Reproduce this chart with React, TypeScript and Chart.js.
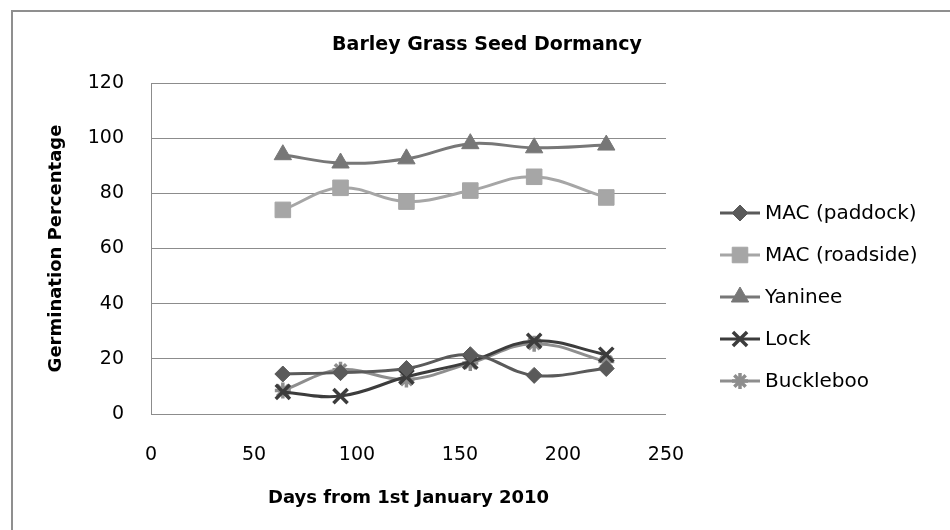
import React, { useEffect, useRef } from "react";
import { Chart, registerables } from "chart.js";
import { drawPoint } from "chart.js/helpers";

Chart.register(...registerables);

// ---- data ----
const days = [64, 92, 124, 155, 186, 221];
const macPaddock = [14.5, 15, 16.5, 21.5, 14, 16.5];
const macRoadside = [74, 82, 77, 81, 86, 78.5];
const yaninee = [94, 91, 92.5, 98, 96.5, 97.5];
const lock = [8, 6.5, 13.5, 19, 26.5, 21.5];
const buckleboo = [8.5, 16, 12.5, 18.5, 25.5, 19];

const seriesNames = ["MAC (paddock)", "MAC (roadside)", "Yaninee", "Lock", "Buckleboo"];
const xTicks = [0, 50, 100, 150, 200, 250];
const yTicks = [0, 20, 40, 60, 80, 100, 120];

const chartTitle = "Barley Grass Seed Dormancy";
const xTitle = "Days from 1st January 2010";
const yTitle = "Germination Percentage";

const FONT = '"Comic Sans MS", "DejaVu Sans", sans-serif';

const styles = [
  { color: "#5a5a5a", point: "rectRot", radius: 8, pbw: 1 },
  { color: "#a6a6a6", point: "rect", radius: 11, pbw: 1 },
  { color: "#777777", point: "triangle", radius: 10, pbw: 1 },
  { color: "#3c3c3c", point: "crossRot", radius: 10, pbw: 3.5 },
  { color: "#8e8e8e", point: "star", radius: 8, pbw: 3.5 },
];

const allSeries = [macPaddock, macRoadside, yaninee, lock, buckleboo];

const decorPlugin = {
  id: "decor",
  afterDraw(chart: any) {
    const ctx = chart.ctx;
    ctx.save();
    // title
    ctx.fillStyle = "#000";
    ctx.font = `bold 19px ${FONT}`;
    ctx.textAlign = "center";
    ctx.textBaseline = "middle";
    ctx.fillText(chartTitle, 487, 45);
    // legend
    chart.data.datasets.forEach((ds: any, i: number) => {
      const y = 213 + i * 42;
      ctx.strokeStyle = ds.borderColor;
      ctx.lineWidth = 3;
      ctx.beginPath();
      ctx.moveTo(720, y);
      ctx.lineTo(760, y);
      ctx.stroke();
      ctx.fillStyle = ds.pointBackgroundColor;
      ctx.strokeStyle = ds.pointBorderColor;
      ctx.lineWidth = ds.pointBorderWidth;
      drawPoint(
        ctx,
        { pointStyle: ds.pointStyle, rotation: 0, radius: ds.pointRadius, borderWidth: ds.pointBorderWidth },
        740,
        y
      );
      ctx.fillStyle = "#000";
      ctx.font = `20px ${FONT}`;
      ctx.textAlign = "left";
      ctx.textBaseline = "middle";
      ctx.fillText(ds.label, 765, y + 1);
    });
    ctx.restore();
  },
};

export default function App() {
  const ref = useRef<HTMLCanvasElement>(null);
  useEffect(() => {
    if (!ref.current) return;
    const datasets = allSeries.map((arr, i) => ({
      label: seriesNames[i],
      data: days.map((d, j) => ({ x: d, y: arr[j] })),
      borderColor: styles[i].color,
      backgroundColor: styles[i].color,
      pointBackgroundColor: styles[i].color,
      pointBorderColor: styles[i].color,
      pointStyle: styles[i].point,
      pointRadius: styles[i].radius,
      pointBorderWidth: styles[i].pbw,
      borderWidth: 3,
      tension: 0.4,
      fill: false,
    }));
    const chart = new Chart(ref.current, {
      type: "line",
      data: { datasets },
      options: {
        animation: false,
        responsive: false,
        devicePixelRatio: 1,
        layout: { padding: { top: 83, right: 284, left: 0, bottom: 0 } },
        plugins: { legend: { display: false }, title: { display: false }, tooltip: { enabled: false } },
        scales: {
          x: {
            type: "linear",
            min: 0,
            max: 250,
            afterBuildTicks: (s: any) => {
              s.ticks = xTicks.map((v) => ({ value: v }));
            },
            afterFit: (s: any) => {
              s.height = 116;
            },
            grid: { display: false, drawTicks: false },
            border: { display: false },
            ticks: { padding: 30, color: "#000", maxRotation: 0, font: { family: FONT, size: 19 } },
            title: {
              display: true,
              text: xTitle,
              color: "#000",
              padding: { bottom: 21, top: 0 },
              font: { family: FONT, size: 18, weight: "bold" },
            },
          },
          y: {
            min: 0,
            max: 120,
            afterBuildTicks: (s: any) => {
              s.ticks = yTicks.map((v) => ({ value: v }));
            },
            afterFit: (s: any) => {
              s.width = 151;
            },
            grid: { color: "#8c8c8c", lineWidth: 1, drawTicks: false },
            border: { display: true, color: "#8c8c8c", width: 1 },
            ticks: { padding: 27, color: "#000", font: { family: FONT, size: 19 } },
            title: {
              display: true,
              text: yTitle,
              color: "#000",
              padding: { top: 46, bottom: 0 },
              font: { family: FONT, size: 18, weight: "bold" },
            },
          },
        },
      },
      plugins: [decorPlugin],
    } as any);
    return () => chart.destroy();
  }, []);

  return (
    <div style={{ position: "absolute", left: 0, top: 0, width: 950, height: 530, overflow: "hidden", background: "#fff" }}>
      <div
        style={{
          position: "absolute",
          left: 11,
          top: 10,
          width: 960,
          height: 540,
          borderTop: "2px solid #8f8f8f",
          borderLeft: "2px solid #8f8f8f",
        }}
      />
      <canvas ref={ref} width={950} height={530} style={{ position: "absolute", left: 0, top: 0 }} />
    </div>
  );
}
